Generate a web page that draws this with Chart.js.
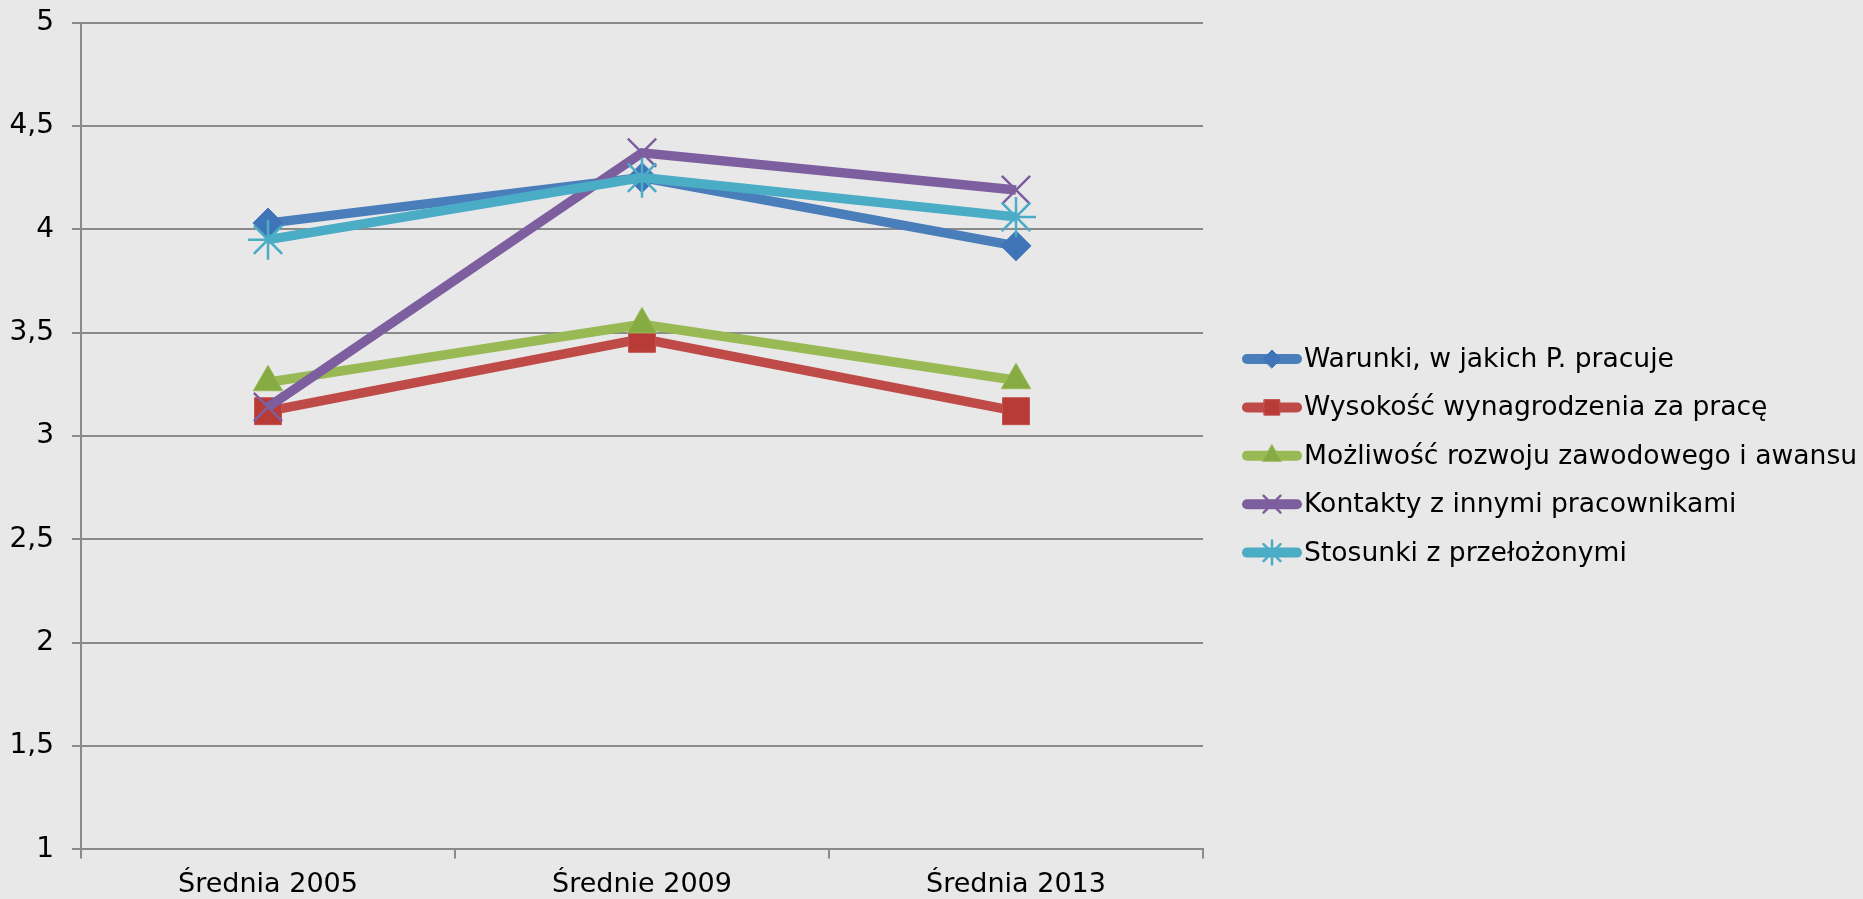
<!DOCTYPE html>
<html>
<head>
<meta charset="utf-8">
<script src="https://cdn.jsdelivr.net/npm/chart.js@4/dist/chart.umd.min.js"></script>
<style>
  html, body { margin: 0; padding: 0; background: #e8e8e8; }
  #wrap { width: 1863px; height: 899px; }
</style>
</head>
<body>
<div id="wrap"><canvas id="c" width="1863" height="899"></canvas></div>
<script>
const categories = ['Średnia 2005', 'Średnie 2009', 'Średnia 2013'];
const seriesNames = [
  'Warunki, w jakich P. pracuje',
  'Wysokość wynagrodzenia za pracę',
  'Możliwość rozwoju zawodowego i awansu',
  'Kontakty z innymi pracownikami',
  'Stosunki z przełożonymi'
];
const warunki = [4.03, 4.25, 3.92];
const wynagrodzenie = [3.12, 3.47, 3.12];
const rozwoj = [3.26, 3.54, 3.27];
const kontakty = [3.14, 4.37, 4.19];
const stosunki = [3.95, 4.25, 4.06];
const yTicks = [1, 1.5, 2, 2.5, 3, 3.5, 4, 4.5, 5];

const FONT = 'DejaVu Sans';
const styles = [
  { line: '#4a7ebb', point: '#3f74b8', border: '#3f74b8', shape: 'rectRot', r: 15, lr: 9, bw: 1 },
  { line: '#be4b48', point: '#b93b37', border: '#c0504d', shape: 'rect', r: 19, lr: 11, bw: 1 },
  { line: '#98b954', point: '#86ab43', border: '#9bbb59', shape: 'triangle', r: 17, lr: 11, bw: 1 },
  { line: '#7d5fa0', point: '#7d5fa0', border: '#7d5fa0', shape: 'crossRot', r: 20, lr: 12, bw: 2.5 },
  { line: '#4bacc6', point: '#4bacc6', border: '#4bacc6', shape: 'star', r: 20, lr: 12, bw: 2.5 }
];
const values = [warunki, wynagrodzenie, rozwoj, kontakty, stosunki];

const datasets = values.map((v, i) => ({
  label: seriesNames[i],
  data: v,
  borderColor: styles[i].line,
  backgroundColor: styles[i].point,
  borderWidth: 9.5,
  pointStyle: styles[i].shape,
  pointRadius: styles[i].r,
  pointHoverRadius: styles[i].r,
  pointBackgroundColor: styles[i].point,
  pointBorderColor: styles[i].border,
  pointBorderWidth: styles[i].bw,
  tension: 0,
  order: 4 - i
}));

const legendPlugin = {
  id: 'customLegend',
  afterDraw(chart) {
    const ctx = chart.ctx;
    const x0 = 1242, x1 = 1302, textX = 1304, y0 = 359, step = 48.4;
    ctx.save();
    seriesNames.forEach((name, i) => {
      const y = y0 + i * step;
      const s = styles[i];
      ctx.strokeStyle = s.line;
      ctx.lineWidth = 10;
      ctx.lineCap = 'round';
      ctx.beginPath();
      ctx.moveTo(x0 + 5, y);
      ctx.lineTo(x1 - 5, y);
      ctx.stroke();
      ctx.save();
      ctx.fillStyle = s.point;
      ctx.strokeStyle = s.border;
      ctx.lineWidth = s.bw;
      Chart.helpers.drawPoint(ctx, {
        pointStyle: s.shape, radius: s.lr, borderWidth: s.bw, rotation: 0
      }, (x0 + x1) / 2, y);
      ctx.restore();
      ctx.fillStyle = '#000';
      ctx.font = '26.6px "' + FONT + '"';
      ctx.textBaseline = 'middle';
      ctx.textAlign = 'left';
      ctx.fillText(name, textX, y + 1);
    });
    ctx.restore();
  }
};

const bgPlugin = {
  id: 'bg',
  beforeDraw(chart) {
    const ctx = chart.ctx;
    ctx.save();
    ctx.fillStyle = '#e8e8e8';
    ctx.fillRect(0, 0, chart.width, chart.height);
    ctx.restore();
  }
};

new Chart(document.getElementById('c'), {
  type: 'line',
  data: { labels: categories, datasets },
  options: {
    responsive: false,
    animation: false,
    events: [],
    layout: { padding: { left: 0, top: 22.6, right: 660, bottom: 0 } },
    plugins: { legend: { display: false }, tooltip: { enabled: false } },
    scales: {
      x: {
        offset: true,
        afterFit(s) { s.height = 49.6; s.paddingLeft = 0; s.paddingRight = 0; },
        grid: { offset: true, drawOnChartArea: false, drawTicks: true, tickLength: 9, color: '#8a8a8a', lineWidth: 2 },
        border: { color: '#8a8a8a', width: 2 },
        ticks: { color: '#000', font: { family: FONT, size: 27, lineHeight: 1.1 }, padding: 12, maxRotation: 0 }
      },
      y: {
        min: 1, max: 5,
        afterBuildTicks(scale) { scale.ticks = yTicks.map(v => ({ value: v })); },
        afterFit(s) { s.width = 81; s.paddingTop = 0; s.paddingBottom = 0; },
        grid: { color: '#8a8a8a', lineWidth: 2, tickLength: 9 },
        border: { color: '#8a8a8a', width: 2 },
        ticks: {
          color: '#000', font: { family: FONT, size: 28 }, padding: 18,
          callback: v => String(v).replace('.', ',')
        }
      }
    }
  },
  plugins: [bgPlugin, legendPlugin]
});
</script>
</body>
</html>
